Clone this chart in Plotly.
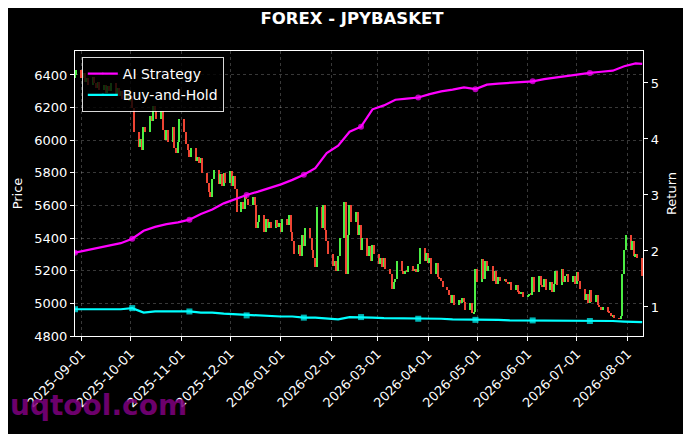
import pandas as pd
import plotly.graph_objects as go

# trading days shown on the chart
dates = pd.bdate_range("2025-08-28", "2026-08-10")

# daily closes of JPYBASKET (5 per week)
closes = [
    6400, 6430, 6380, 6410, 6360,
    6380, 6340, 6390, 6350, 6320,
    6360, 6310, 6340, 6290, 6330,
    6300, 6350, 6280, 6320, 6270,
    6300, 6250, 6290, 6240, 6270,
    6200, 6050, 5960, 6010, 5940,
    6080, 6050, 6150, 6120, 6210,
    6180, 6130, 6180, 6060, 6000,
    6060, 5990, 6080, 5950, 5920,
    5990, 6130, 6050, 5980, 5940,
    5900, 5950, 5870, 5900, 5860,
    5890, 5800, 5740, 5680, 5650,
    5760, 5820, 5730, 5790, 5720,
    5800, 5740, 5810, 5720, 5780,
    5700, 5560, 5620, 5580, 5660,
    5640, 5600, 5650, 5600, 5460,
    5500, 5540, 5440, 5520, 5460,
    5500, 5460, 5510, 5470, 5490,
    5440, 5520, 5480, 5540, 5440,
    5380, 5300, 5360, 5290, 5420,
    5350, 5460, 5400, 5330, 5280,
    5220, 5590, 5460, 5600, 5450,
    5380, 5300, 5230, 5260, 5200,
    5290, 5400, 5620, 5180, 5420,
    5600, 5500, 5560, 5420, 5480,
    5330, 5400, 5290, 5350, 5260,
    5360, 5300, 5240, 5280, 5220,
    5280, 5210, 5180, 5090, 5130,
    5150, 5260, 5200, 5180, 5200,
    5190, 5230, 5200, 5210, 5190,
    5240, 5340, 5260, 5310, 5250,
    5280, 5180, 5250, 5160, 5150,
    5140, 5100, 5080, 5050, 5000,
    5050, 4990, 5020, 5000, 5030,
    5010, 4960, 5000, 4940, 4950,
    5210, 5130, 5270, 5150, 5260,
    5200, 5230, 5140, 5200, 5120,
    5160, 5140, 5150, 5130, 5120,
    5130, 5080, 5110, 5070, 5060,
    5070, 5040, 5050, 5060, 5050,
    5160, 5070, 5170, 5110, 5100,
    5150, 5080, 5130, 5070, 5120,
    5200, 5110, 5210, 5130, 5170,
    5180, 5130, 5170, 5120, 5190,
    5140, 5090, 5020, 5060, 5000,
    5080, 5010, 5050, 4990, 4980,
    4960, 4980, 4950, 4940, 4920,
    4930, 4910, 4905, 4920, 5180,
    5330, 5420, 5330, 5380, 5290,
    5300, 5280, 5170,
]
first_open = 6380
opens = [first_open] + closes[:-1]

# cumulative returns, sampled weekly (every 5th trading day + last day)
line_idx = list(range(0, len(dates), 5)) + [len(dates) - 1]
ai_strategy = [
    1.97, 2.01, 2.05, 2.09, 2.14, 2.22, 2.36, 2.43, 2.48, 2.51,
    2.56, 2.66, 2.74, 2.85, 2.93, 3.00, 3.06, 3.12, 3.19, 3.27,
    3.36, 3.48, 3.75, 3.88, 4.13, 4.22, 4.53, 4.60, 4.70, 4.72,
    4.74, 4.80, 4.85, 4.88, 4.92, 4.89, 4.97, 4.99, 5.00, 5.02,
    5.03, 5.07, 5.10, 5.12, 5.16, 5.18, 5.20, 5.22, 5.30, 5.35,
    5.34,
]
buy_and_hold = [
    0.96, 0.96, 0.96, 0.96, 0.96, 0.98, 0.90, 0.92, 0.92, 0.91,
    0.92, 0.90, 0.90, 0.88, 0.87, 0.85, 0.84, 0.84, 0.83, 0.83,
    0.81, 0.81, 0.80, 0.78, 0.82, 0.82, 0.81, 0.80, 0.80, 0.79,
    0.79, 0.79, 0.79, 0.78, 0.78, 0.77, 0.77, 0.77, 0.76, 0.76,
    0.76, 0.76, 0.75, 0.75, 0.75, 0.75, 0.75, 0.75, 0.74, 0.73,
    0.73,
]

price_ticks = [4800, 5000, 5200, 5400, 5600, 5800, 6000, 6200, 6400]
return_ticks = [1, 2, 3, 4, 5]
month_ticks = pd.date_range("2025-09-01", "2026-08-01", freq="MS")

line_dates = dates[line_idx]
mark_sizes = [6 if (i % 5 == 0 and i < len(line_idx) - 1) else 0 for i in range(len(line_idx))]

font = "DejaVu Sans"
up_col, down_col = "#4cee44", "#ee4433"

fig = go.Figure()

# thin candles drawn as bars from open to close
fig.add_trace(go.Bar(
    x=dates, y=[c - o for o, c in zip(opens, closes)], base=opens,
    width=0.9 * 86400000,
    marker=dict(color=[up_col if c >= o else down_col for o, c in zip(opens, closes)],
                line=dict(width=0)),
    showlegend=False, yaxis="y", hoverinfo="skip",
))

fig.add_trace(go.Scatter(
    x=line_dates, y=ai_strategy, name="AI Strategy", mode="lines+markers",
    line=dict(color="#ff00ff", width=2.2),
    marker=dict(symbol="circle", size=mark_sizes, color="#ff00ff", line=dict(width=0)),
    yaxis="y2",
))
fig.add_trace(go.Scatter(
    x=line_dates, y=buy_and_hold, name="Buy-and-Hold", mode="lines+markers",
    line=dict(color="#00ffff", width=2.2),
    marker=dict(symbol="square", size=mark_sizes, color="#00ffff", line=dict(width=0)),
    yaxis="y2",
))

grid = dict(showgrid=True, gridcolor="rgba(255,255,255,0.22)", griddash="3px,3px", gridwidth=0.6)

# page body adds an 8px offset, so the figure is 8px smaller on each side
fig.update_layout(
    width=683, height=426,
    paper_bgcolor="black", plot_bgcolor="black",
    font=dict(family=font, size=13, color="white"),
    margin=dict(l=67, r=48, t=43, b=98),
    bargap=0,
    title=dict(text="<b>FOREX - JPYBASKET</b>", x=(352 - 8) / 683, xanchor="center", y=0.976,
               yanchor="middle", font=dict(size=16.5, color="white")),
    xaxis=dict(
        type="date", range=["2025-08-28", "2026-08-10 12:00"], automargin=False,
        tickvals=month_ticks, ticktext=[d.strftime("%Y-%m-%d") for d in month_ticks],
        tickangle=-45, ticks="outside", ticklen=4, tickcolor="white",
        showline=True, linecolor="white", linewidth=1.2, mirror=True, **grid,
    ),
    yaxis=dict(
        title=dict(text="Price", standoff=8, font=dict(size=13)), range=[4800, 6547],
        tickvals=price_ticks, automargin=False,
        ticks="outside", ticklen=4, tickcolor="white",
        showline=True, linecolor="white", linewidth=1.2, zeroline=False, **grid,
    ),
    yaxis2=dict(
        title=dict(text="Return", standoff=8, font=dict(size=13)), range=[0.482, 5.571],
        tickvals=return_ticks, automargin=False,
        overlaying="y", side="right", ticks="outside", ticklen=4, tickcolor="white",
        showline=True, linecolor="white", linewidth=1.2, showgrid=False, zeroline=False,
    ),
    legend=dict(
        x=0.012, y=0.979, xanchor="left", yanchor="top",
        bgcolor="rgba(0,0,0,0.8)", bordercolor="rgba(255,255,255,0.85)", borderwidth=1,
        font=dict(size=14, color="white"), tracegroupgap=0,
    ),
    annotations=[dict(
        text="<b>uqtool.com</b>", xref="paper", yref="paper", x=-0.118, y=-0.178,
        xanchor="left", yanchor="top", showarrow=False,
        font=dict(family=font, size=28, color="rgba(128,0,128,0.85)"),
    )],
)

fig.write_html("out.html")
